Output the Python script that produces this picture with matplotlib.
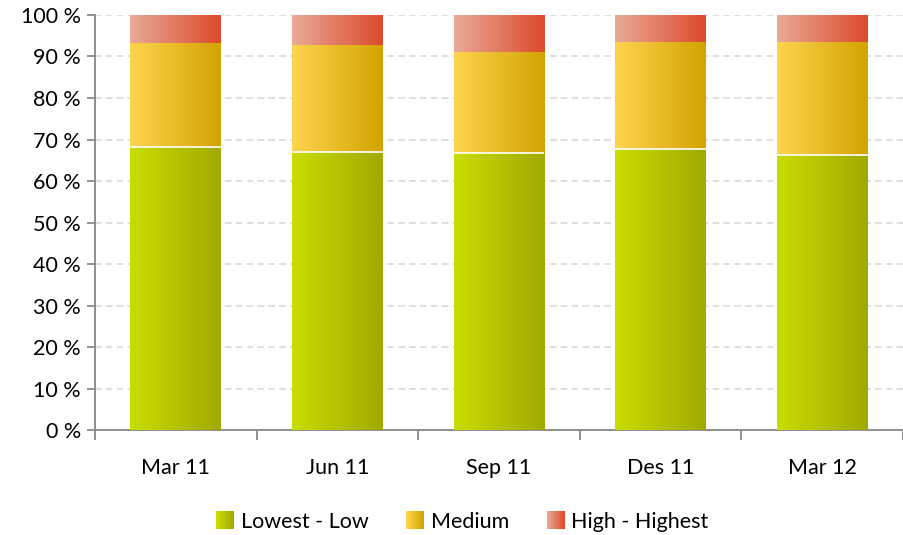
import numpy as np
import matplotlib
matplotlib.use("Agg")
import matplotlib.pyplot as plt
from matplotlib.colors import LinearSegmentedColormap
from matplotlib.patches import Rectangle
from matplotlib.legend_handler import HandlerBase
from matplotlib.ticker import FixedLocator

plt.rcParams['font.family'] = ['Lato', 'DejaVu Sans']

categories = ["Mar 11", "Jun 11", "Sep 11", "Des 11", "Mar 12"]
low = [68.2, 66.9, 66.7, 67.7, 66.3]
medium = [25.1, 25.9, 24.5, 25.8, 27.2]
high = [6.7, 7.2, 8.8, 6.5, 6.5]
series_names = ["Lowest - Low", "Medium", "High - Highest"]
yticks = [0, 10, 20, 30, 40, 50, 60, 70, 80, 90, 100]

grads = [
    ("#c9dd00", "#a0aa00"),
    ("#fed44f", "#d3a300"),
    ("#eaaa97", "#db4a2c"),
]

fig = plt.figure(figsize=(9.04, 5.35), dpi=100)
ax = fig.add_axes([0.105, 0.196, 0.894, 0.776])

x = np.arange(len(categories))
width = 0.56
bottoms = np.zeros(len(categories))
grad_img = np.linspace(0, 1, 256).reshape(1, -1)
for k, (vals, (c1, c2)) in enumerate(zip([low, medium, high], grads)):
    cmap = LinearSegmentedColormap.from_list("g", [c1, c2])
    bars = ax.bar(x, vals, width, bottom=bottoms, color="none", edgecolor="none", zorder=3)
    for b in bars:
        x0, y0 = b.get_x(), b.get_y()
        w, h = b.get_width(), b.get_height()
        ax.imshow(grad_img, cmap=cmap, aspect="auto", extent=[x0, x0 + w, y0, y0 + h],
                  zorder=3, interpolation="bilinear")
        if k == 0:
            ax.plot([x0, x0 + w], [y0 + h, y0 + h], color="white", lw=1.2, zorder=4,
                    solid_capstyle="butt")
    bottoms = bottoms + np.array(vals)

ax.set_xlim(-0.5, len(categories) - 0.5)
ax.set_ylim(0, 100)
ax.set_yticks(yticks)
ax.set_yticklabels([f"{v} %" for v in yticks])
ax.set_xticks(x)
ax.set_xticklabels(categories)
ax.xaxis.set_minor_locator(FixedLocator(np.arange(-0.5, len(categories), 1.0)))
ax.tick_params(axis="x", which="major", length=0, pad=20, labelsize=15.5, colors="#000000")
ax.tick_params(axis="x", which="minor", length=7, width=1.2, color="#808080", direction="out")
ax.tick_params(axis="y", length=6, width=1.2, color="#808080", labelsize=15.5, pad=4, direction="out")
for lab in ax.get_xticklabels() + ax.get_yticklabels():
    lab.set_color("black")

for s in ["top", "right"]:
    ax.spines[s].set_visible(False)
for s in ["left", "bottom"]:
    ax.spines[s].set_color("#868686")
    ax.spines[s].set_linewidth(1.3)
ax.yaxis.grid(True, linestyle=(0, (4, 2.5)), color="#d9d9d9", linewidth=1.2, zorder=0)
ax.set_axisbelow(True)


class GradHandler(HandlerBase):
    def __init__(self, c1, c2):
        super().__init__()
        self.c1, self.c2 = c1, c2

    def create_artists(self, legend, orig_handle, xdescent, ydescent, width, height, fontsize, trans):
        cmap = LinearSegmentedColormap.from_list("g", [self.c1, self.c2])
        n = 12
        side = height * 1.2
        x0 = -xdescent + (width - side) / 2
        y0 = -ydescent + (height - side) / 2
        arts = []
        for i in range(n):
            r = Rectangle((x0 + side * i / n, y0), side / n * 1.05, side,
                          facecolor=cmap(i / (n - 1)), edgecolor="none", transform=trans)
            arts.append(r)
        return arts


handles = [Rectangle((0, 0), 1, 1) for _ in series_names]
hmap = {h: GradHandler(c1, c2) for h, (c1, c2) in zip(handles, grads)}
fig.legend(handles, series_names, handler_map=hmap, loc="center", bbox_to_anchor=(0.512, 0.025),
           ncol=3, frameon=False, fontsize=15.5, handlelength=0.75, handletextpad=0.35,
           columnspacing=1.8)

fig.savefig("out.png", dpi=100)
